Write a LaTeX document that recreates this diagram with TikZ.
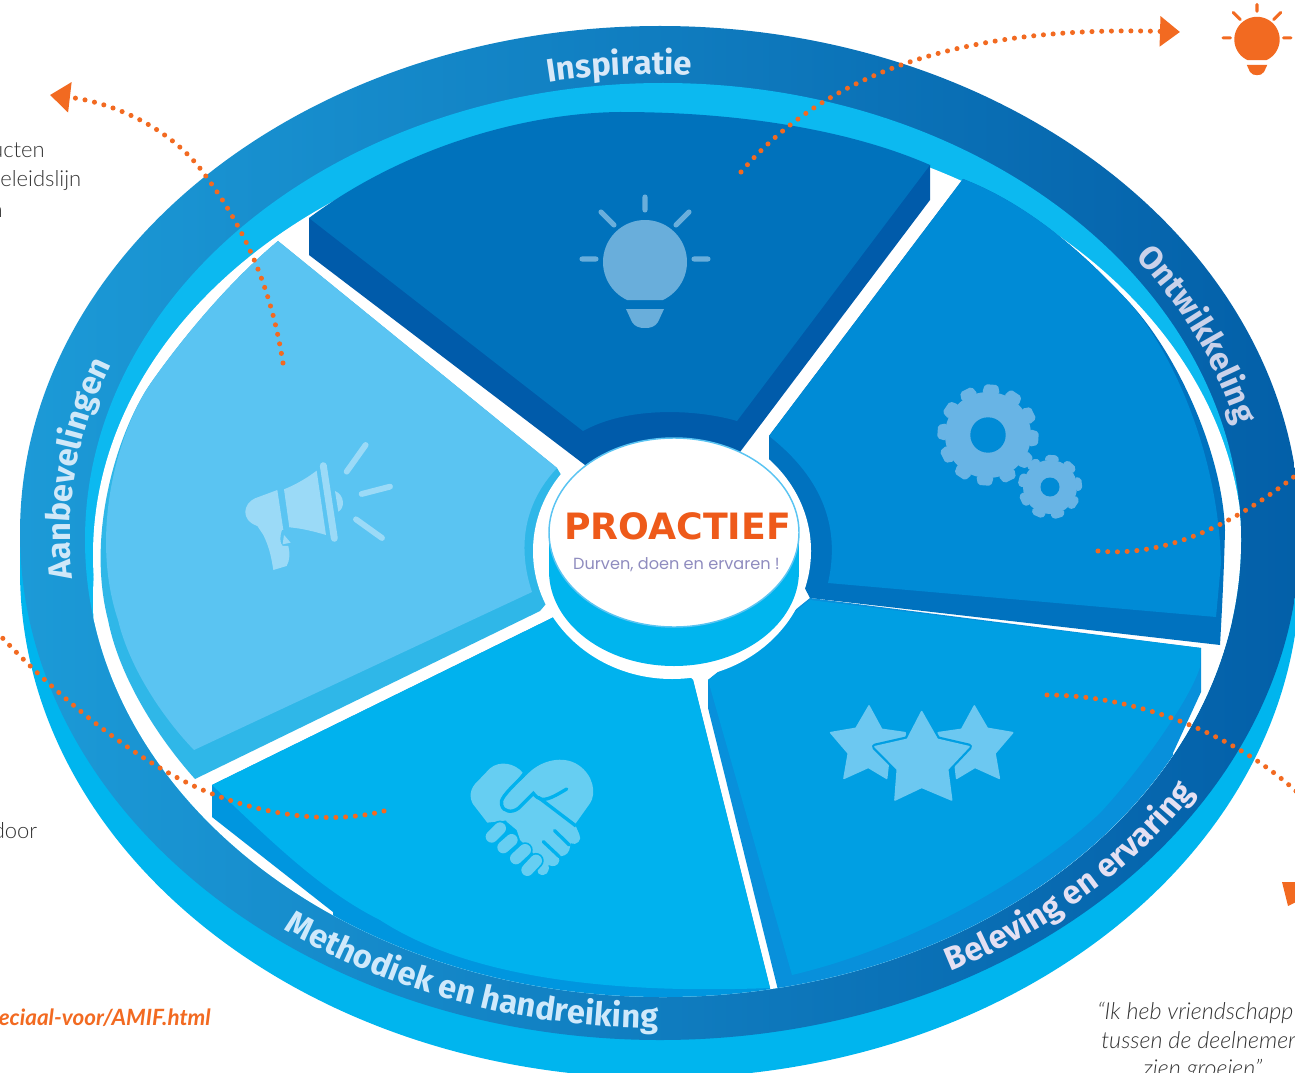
\documentclass[tikz,border=0pt]{standalone}
\usepackage{fontspec}
\usetikzlibrary{decorations.text,arrows.meta}
\setmainfont{Lato}
\newfontfamily\ringfont{Fira Sans}[BoldFont={Fira Sans Bold}]
\newfontfamily\logofont{DejaVu Sans}
\newfontfamily\subfont{Poppins}
\newfontfamily\lightfont{Lato Light}
\definecolor{orangeM}{HTML}{F26A21}
\definecolor{ringL}{HTML}{1C9AD7}
\definecolor{ringM}{HTML}{0A7DC4}
\definecolor{ringR}{HTML}{035FA8}
\definecolor{rim}{HTML}{00B5EE}
\definecolor{crescent}{HTML}{0CB9F0}
\definecolor{oneTop}{HTML}{0072BC}
\definecolor{oneSide}{HTML}{005BAA}
\definecolor{twoTop}{HTML}{008BD6}
\definecolor{twoSide}{HTML}{0072BF}
\definecolor{threeTop}{HTML}{009FE3}
\definecolor{threeSide}{HTML}{0890DB}
\definecolor{fourTop}{HTML}{00B2EE}
\definecolor{fourSide}{HTML}{0096DF}
\definecolor{fiveTop}{HTML}{5AC4F2}
\definecolor{fiveSide}{HTML}{2FB7E8}
\definecolor{iconOne}{HTML}{69AEDB}
\definecolor{iconTwo}{HTML}{68B4E5}
\definecolor{iconThree}{HTML}{6CC8F1}
\definecolor{iconFour}{HTML}{66CEF2}
\definecolor{iconFive}{HTML}{9BDAF7}
\definecolor{bodygrey}{HTML}{333333}
\definecolor{labelA}{HTML}{D8E8F8}
\definecolor{labelB}{HTML}{CAD2EA}
\definecolor{labelC}{HTML}{D0E8F8}
\definecolor{labelD}{HTML}{CFE9FB}
\definecolor{labelE}{HTML}{E4E0F2}
\tikzset{
  dotted path/.style={orangeM,line width=3.8pt,line cap=round,dash pattern=on 0pt off 7.3pt},
  arrow dots/.style={dotted path,-{Triangle[length=15pt,width=22pt]}},
  body text/.style={font=\lightfont\fontsize{16.5}{20}\selectfont,text=bodygrey,inner sep=0pt},
  quote text/.style={font=\lightfont\itshape\fontsize{17.5}{20}\selectfont,text=bodygrey,inner sep=0pt},
  ring text/.style 2 args={decorate,decoration={text along path,text align={center},text={|\ringfont\bfseries\fontsize{24.5}{24}\selectfont\color{#1}|#2}}},
}
\newcommand\bulbicon[5]{%
 \begin{scope}[shift={(#1,#2)},scale=#3]
  \fill[#4] plot[domain=115:425,samples=70] ({42*cos(\x)},{42*sin(\x)}) -- cycle;
  \fill[#4] (-19,47)--(19,47)--(13,60) .. controls (10,65) and (5,66) .. (0,66) .. controls (-5,66) and (-10,65) .. (-13,60)--cycle;
  \draw[#4,line width=#5,line cap=round] (0,-65)--(0,-52) (-44,-50)--(-31,-37) (44,-50)--(31,-37) (-63,-3)--(-49,-3) (63,-3)--(49,-3);
 \end{scope}}
\newcommand\gearicon[9]{%
 \begin{scope}[shift={(#1,#2)}]
  \fill[#8] (0,0) circle[radius=#4];
  \foreach \a in {1,...,#6} {
   \fill[#8,rotate=\a*360/#6+#9,rounded corners=1.5pt] (-#7,-#3)--(#7,-#3)--({1.35*#7},{-#4+1})--({-1.35*#7},{-#4+1})--cycle;
  }
  \fill[twoTop] (0,0) circle[radius=#5];
 \end{scope}}
\begin{document}
\begin{tikzpicture}[x=0.75pt,y=-0.75pt]
\useasboundingbox (0,0) rectangle (1295,1073);
\clip (0,0) rectangle (1295,1073);
% base and ring
\fill[rim] (660,571) ellipse (640 and 507);
\fill[rim] (20,533) rectangle (1300,571);
\shade[left color=ringL,middle color=ringM,right color=ringR] (660,533) ellipse (640 and 507);
\fill[crescent] (663,540) ellipse (578 and 457);
\begin{scope}
 \clip (663,540) ellipse (578 and 457);
 \fill[white] (668,555) ellipse (575 and 435);
 \fill[white] (663,600) ellipse (570 and 457);
 % lower sides of two tiles, clipped to the ring
 \fill[threeSide] (708,680)--(810,598)--(1201,648)--(1201,692)--(1173,753)--(1173,1073)--(778,1073)--(778,990)--(708,708)--cycle;
 \fill[fourSide] (554,617)--(212,785)--(212,817)--(333,912)--(333,1073)--(770,1073)--(770,988)--(693,680)--cycle;
\end{scope}
% tile 2
\fill[twoSide] (963,179) .. controls (1030,205) and (1085,255) .. (1127,300) .. controls (1175,350) and (1222,450) .. (1225,530) .. controls (1224,570) and (1222,610) .. (1220,645) -- (810,598) -- (769,520) -- (769,436) -- cycle;
\fill[twoTop] (963,179) .. controls (1030,205) and (1085,255) .. (1127,300) .. controls (1170,347) and (1218,450) .. (1221,563) -- (1216,617) -- (828,583) .. controls (840,530) and (825,480) .. (769,436) -- cycle;
% tile 3 top
\fill[threeTop] (708,680) -- (810,600) -- (1201,648) -- (1200,667) .. controls (1190,700) and (1140,770) .. (1100,813) .. controls (1040,870) and (920,945) .. (792,975) -- cycle;
% tile 4 top
\fill[fourTop] (212,785) .. controls (270,840) and (320,890) .. (380,920) .. controls (460,972) and (590,995) .. (770,988) -- (693,680) -- (620,600) -- (554,617) -- cycle;
% tile 5
\fill[fiveSide] (278,241) .. controls (230,281) and (185,335) .. (153,380) .. controls (120,425) and (85,530) .. (108,620) .. controls (120,680) and (160,740) .. (195,779) -- (540,611) -- (600,540) -- (557,468) -- cycle;
\fill[fiveTop] (278,241) .. controls (230,281) and (185,335) .. (153,380) .. controls (120,425) and (88,530) .. (118,620) .. controls (130,670) and (165,720) .. (194,750) -- (532,592) .. controls (518,550) and (522,505) .. (557,468) -- cycle;
% halo round the centre
\fill[white] (672,551) ellipse (139 and 128);
% tile 1
\fill[oneSide] (309,218) -- (309,255) -- (585,465) -- (740,452) -- (930,200) -- (930,165) -- cycle;
\fill[oneTop] (309,218) .. controls (400,150) and (520,113) .. (620,112) .. controls (740,112) and (850,130) .. (930,165) -- (737,421) .. controls (700,410) and (630,405) .. (583,431) -- cycle;
% centre cylinder
\fill[rim] (549,532) -- (549,571) -- (799,571) -- (799,532) -- cycle;
\fill[rim] (674,571) ellipse (125 and 95);
\fill[white,draw=fiveTop,line width=1.1pt] (674,532.5) ellipse (125 and 94.5);
\node[inner sep=0pt] (logo) at (677.5,526.5) {\logofont\bfseries\fontsize{27.2}{27}\selectfont\textcolor[HTML]{EE5A1A}{PROACTIEF}};
\node[inner sep=0pt] (slogan) at (676.5,564.5) {\subfont\fontsize{12.1}{12}\selectfont\textcolor[HTML]{8F8CBF}{Durven, doen en ervaren !}};
% icons
\bulbicon{645}{262}{1}{iconOne}{3.8pt}
\bulbicon{1257}{39.5}{0.54}{orangeM}{2.3pt}
\gearicon{988}{435}{50.5}{43}{17.7}{12}{6.5}{iconTwo}{-4}
\gearicon{1050}{487}{32}{27}{9.5}{9}{5.5}{iconTwo}{-4}
% stars
\begin{scope}[shift={(820,690)},scale=0.3333]
 \filldraw[iconThree,line width=1.2pt,line join=round] (147,48)--(185,118)--(255,128)--(260,150)--(160,170)--(205,220)--(200,265)--(145,232)--(72,265)--(85,190)--(32,128)--(108,115)--cycle;
 \filldraw[iconThree,line width=1.2pt,line join=round] (463,48)--(425,118)--(355,128)--(350,150)--(450,170)--(405,220)--(410,265)--(465,232)--(538,265)--(525,190)--(578,128)--(502,115)--cycle;
 \filldraw[threeTop,line width=4.6pt,line join=round] (305,65)--(352,148)--(447,170)--(383,238)--(395,330)--(305,292)--(225,330)--(232,238)--(165,170)--(262,148)--cycle;
 \filldraw[iconThree,line width=1.2pt,line join=round] (305,65)--(352,148)--(447,170)--(383,238)--(395,330)--(305,292)--(225,330)--(232,238)--(165,170)--(262,148)--cycle;
\end{scope}
% handshake
\begin{scope}[shift={(450,740)},scale=0.3333]
 \fill[iconFour] (218,98) .. controls (195,70) and (150,60) .. (120,85) -- (75,132) .. controls (55,155) and (60,185) .. (75,200) -- (112,248) -- (180,240) -- (170,160) -- cycle;
 \fill[iconFour] (165,165) -- (235,100) .. controls (275,60) and (340,45) .. (385,75) .. controls (430,105) and (440,160) .. (420,190) -- (375,253) -- (388,283) .. controls (398,300) and (380,318) .. (362,310) -- (358,330) .. controls (352,345) and (340,350) .. (325,348) -- (328,362) .. controls (325,378) and (310,382) .. (295,375) .. controls (302,395) and (285,415) .. (265,400) -- (250,340) -- (210,300) -- (200,270) -- (170,245) -- (150,200) -- cycle;
 \draw[fourTop,line width=2.5pt,line cap=round] (350,147) .. controls (320,165) and (295,180) .. (275,178) .. controls (265,176) and (258,170) .. (250,160) -- (205,205) .. controls (185,220) and (160,215) .. (155,195) .. controls (150,180) and (160,165) .. (222,105);
 \draw[fourTop,line width=2.5pt] (265,172) -- (378,258);
 \draw[fourTop,line width=2.5pt,line cap=round] (314,272) -- (358,315) (280,305) -- (328,350);
 \foreach \xa/\ya/\xb/\yb in {232/390/258/362,198/355/225/330,160/322/185/300,125/290/150/265} {
  \draw[fourTop,line width=11.6pt,line cap=round] (\xa,\ya) -- (\xb,\yb);
  \draw[iconFour,line width=9pt,line cap=round] (\xa,\ya) -- (\xb,\yb);
 }
\end{scope}
% megaphone
\begin{scope}[shift={(220,420)},scale=0.3333]
 \fill[iconFive] (172,210) -- (105,235) .. controls (70,250) and (60,300) .. (112,318) -- (130,345) .. controls (150,385) and (155,420) .. (160,450) -- (200,438) .. controls (210,420) and (210,400) .. (205,378) -- (188,378) .. controls (178,370) and (180,345) .. (186,330) -- (190,330) -- cycle;
 \fill[iconFive] (192,208) .. controls (225,195) and (260,175) .. (290,152) -- (318,345) .. controls (285,335) and (245,325) .. (208,322) -- cycle;
 \fill[iconFive] (192,345) -- (212,368) -- (188,373) -- cycle;
 \fill[iconFive] (345,213) .. controls (375,225) and (375,265) .. (355,275) -- cycle;
 \draw[iconFive,line width=5.2pt,line cap=round] (310,137) -- (343,355);
 \draw[iconFive,line width=4.4pt,line cap=round] (380,155) -- (437,75) (425,222) -- (510,200) (408,298) -- (486,354);
\end{scope}
% ring labels
\path[ring text={labelA}{Inspiratie}] plot[domain=116:72,samples=40] ({660+590*cos(\x)},{533-459*sin(\x)});
\path[ring text={labelB}{Ontwikkeling}] plot[domain=51:-3,samples=40] ({660+592*cos(\x)},{533-463*sin(\x)});
\path[ring text={labelC}{Aanbevelingen}] plot[domain=202.5:142.5,samples=40] ({660+590*cos(\x)},{533-459*sin(\x)});
\path[ring text={labelD}{Methodiek en handreiking}] plot[domain=213:288,samples=50] ({660+628*cos(\x)},{533-495*sin(\x)});
\path[ring text={labelE}{Beleving en ervaring}] plot[domain=-82.5:-7.5,samples=50] ({660+628*cos(\x)},{533-495*sin(\x)});
% connectors
\coordinate (aStart) at (283,363);
\coordinate (aMid) at (199,167);
\coordinate (aEnd) at (50,95);
\coordinate (bStart) at (741,172);
\coordinate (bEnd) at (1180,32);
\coordinate (cStart) at (1098,551);
\coordinate (cEnd) at (1300,472);
\coordinate (dStart) at (1047,695);
\coordinate (dEnd) at (1298,793);
\coordinate (eStart) at (384,811);
\coordinate (eMid) at (210,793);
\coordinate (eEnd) at (-5,630);
\draw[arrow dots] (aStart) .. controls (270,280) and (240,220) .. (aMid) .. controls (165,125) and (110,102) .. (aEnd);
\draw[arrow dots] (bStart) .. controls (820,80) and (950,25) .. (bEnd);
\draw[dotted path] (cStart) .. controls (1170,558) and (1240,520) .. (cEnd);
\draw[dotted path] (dStart) .. controls (1130,695) and (1230,730) .. (dEnd);
\draw[dotted path] (eStart) .. controls (330,825) and (265,815) .. (eMid) .. controls (140,765) and (60,700) .. (eEnd);
\fill[orangeM] (1282,882) -- (1300,882) -- (1300,900) -- (1288,906) -- cycle;
% margin texts
\node[body text,anchor=base east] (t1) at (45,158) {ucten};
\node[body text,anchor=base east] (t2) at (81.5,187) {eleidslijn};
\node[body text,anchor=base east] (t3) at (3,218) {n};
\node[body text,anchor=base east] (t4) at (37.5,838) {door};
\node[anchor=base east,inner sep=0pt,text=orangeM] (t5) at (211,1025) {\bfseries\itshape\fontsize{16.8}{20}\selectfont eciaal-voor/AMIF.html};
\node[quote text,anchor=base west] (t6) at (1097,1019) {“Ik heb vriendschapp};
\node[quote text,anchor=base west] (t7) at (1101,1048) {tussen de deelnemer};
\node[quote text,anchor=base west] (t8) at (1143,1076) {zien groeien”};
\end{tikzpicture}
\end{document}
